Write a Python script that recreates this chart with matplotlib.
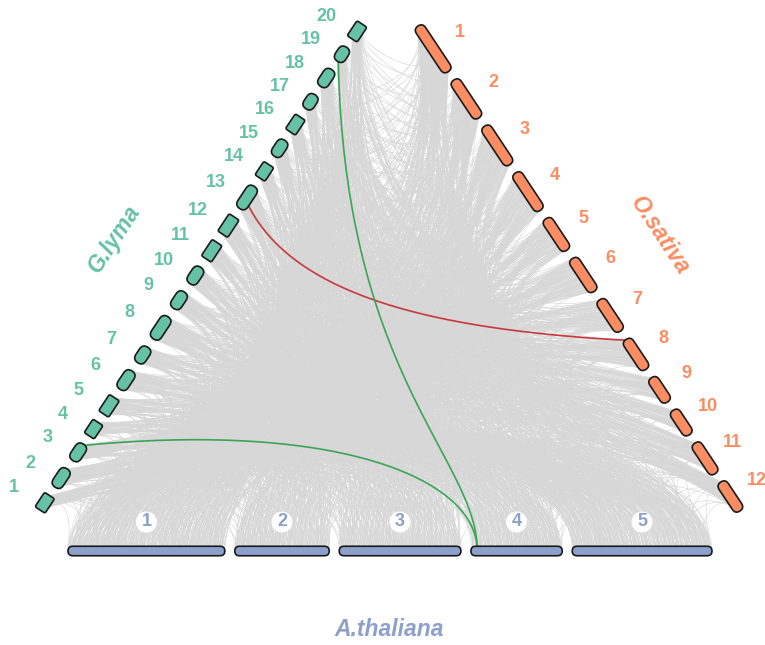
import numpy as np
import matplotlib.pyplot as plt
from matplotlib.patches import FancyBboxPatch, Circle
from matplotlib.collections import LineCollection
from matplotlib.transforms import Affine2D

plt.rcParams['font.family'] = ['Liberation Sans', 'DejaVu Sans']

# * Chromosome sizes of the three genomes
gm_names = [str(i) for i in range(1, 21)]
gm_len = [15, 19, 17, 14, 17, 19, 16, 23, 17, 17, 17, 18, 23, 14, 16.5, 15.5, 14.5, 17.5, 14.5, 15.5]
os_names = [str(i) for i in range(1, 13)]
os_len = [43.3, 35.9, 36.4, 35.5, 29.9, 31.2, 29.7, 28.4, 23.0, 23.2, 29.0, 27.5]
at_names = ["1", "2", "3", "4", "5"]
at_len = [30.4, 18.3, 23.6, 17.7, 27.1]

# * Number of syntenic blocks leaving each chromosome
gm_at_links = [45, 55, 50, 40, 50, 55, 50, 65, 50, 50, 45, 50, 65, 45, 55, 50, 45, 60, 50, 50]
gm_os_links = [22, 26, 25, 22, 22, 26, 22, 30, 25, 25, 22, 25, 32, 22, 28, 25, 25, 28, 25, 25]
os_at_links = [80, 65, 65, 58, 50, 50, 46, 42, 32, 32, 40, 36]

# * Highlighted blocks: (chrom A, position in A, chrom B, position in B)
hl_gm_os = [(13, 0.40, 8, 0.03)]
hl_gm_at = [(19, 0.10, 4, 0.07), (3, 0.92, 4, 0.07)]

c_gm, c_os, c_at = "#66C2A5", "#FC8D62", "#8DA0CB"

fig = plt.figure(figsize=(7.65, 6.45), dpi=100)
ax = fig.add_axes([0, 0, 1, 1])
ax.set_xlim(0, 765)
ax.set_ylim(645, 0)
ax.set_aspect("equal")
ax.axis("off")


def layout(lengths, p0, p1, gap=10):
    p0 = np.array(p0, float)
    p1 = np.array(p1, float)
    total = np.linalg.norm(p1 - p0)
    unit = (p1 - p0) / total
    scale = (total - gap * (len(lengths) - 1)) / sum(lengths)
    starts, s = [], 0
    for L in lengths:
        starts.append(s)
        s += L * scale + gap
    return dict(p0=p0, unit=unit, scale=scale, starts=np.array(starts),
                lengths=np.array(lengths, float))


sides = {
    "gm": layout(gm_len, (40, 510), (362, 24)),
    "os": layout(os_len, (418, 26), (740, 511)),
    "at": layout(at_len, (68, 551), (712, 551)),
}


def point(kind, chrom, frac):
    sd = sides[kind]
    d = sd["starts"][chrom] + frac * sd["lengths"][chrom] * sd["scale"]
    return sd["p0"] + d * sd["unit"]


def genome_point(kind, u):
    # u in [0,1) along the whole genome
    L = sides[kind]["lengths"]
    cum = np.concatenate([[0], np.cumsum(L)])
    pos = u * cum[-1]
    j = min(np.searchsorted(cum, pos, side="right") - 1, len(L) - 1)
    return point(kind, j, (pos - cum[j]) / L[j])


focus = {"gm": np.array([345.0, 420.0]), "os": np.array([437.0, 330.0])}
handle_len = {("gm", "at"): (0.62, 0.18), ("os", "at"): (0.62, 0.18), ("gm", "os"): (0.25, 0.5)}


def handle(kind, p):
    if kind == "at":
        return np.array([0.0, -1.0])
    v = focus[kind] - p
    return v / np.linalg.norm(v)


def link_path(ka, a, kb, b, n=40):
    d = np.linalg.norm(b - a)
    ha, hb = handle_len[(ka, kb)]
    c1 = a + ha * d * handle(ka, a)
    c2 = b + hb * d * handle(kb, b)
    t = np.linspace(0, 1, n)[:, None]
    return (1 - t) ** 3 * a + 3 * (1 - t) ** 2 * t * c1 + 3 * (1 - t) * t ** 2 * c2 + t ** 3 * b


# * Gray background links
segs = []
for ka, kb, counts in [("gm", "at", gm_at_links), ("gm", "os", gm_os_links), ("os", "at", os_at_links)]:
    for i, n in enumerate(counts):
        for k in range(n):
            s = (0.5 + k * 0.6180339887 + i * 0.117) % 1.0
            u = (i * 0.2137 + k * 0.7548776662) % 1.0
            a = point(ka, i, s)
            b = genome_point(kb, u)
            segs.append(link_path(ka, a, kb, b))
ax.add_collection(LineCollection(segs, colors="#d7d7d7", linewidths=0.45, zorder=1))

# * Highlighted links
for ca, fa, cb, fb in hl_gm_os:
    a, b = point("gm", ca - 1, fa), point("os", cb - 1, fb)
    p = link_path("gm", a, "os", b)
    ax.plot(p[:, 0], p[:, 1], color="#c8393b", lw=1.2, zorder=2)
for ca, fa, cb, fb in hl_gm_at:
    a, b = point("gm", ca - 1, fa), point("at", cb - 1, fb)
    p = link_path("gm", a, "at", b)
    ax.plot(p[:, 0], p[:, 1], color="#3aa655", lw=1.2, zorder=2)

# * Chromosomes
gm_square = [1, 4, 5, 11, 12, 14, 16, 20]


def draw_side(kind, color, square=(), h=10.5):
    sd = sides[kind]
    ang = np.degrees(np.arctan2(sd["unit"][1], sd["unit"][0]))
    for i, L in enumerate(sd["lengths"]):
        start = sd["p0"] + sd["starts"][i] * sd["unit"]
        w = L * sd["scale"]
        r = 1.8 if (i + 1) in square else h / 2
        box = FancyBboxPatch((0, -h / 2), w, h, boxstyle=f"round,pad=0,rounding_size={r}",
                             fc=color, ec="#1a1a1a", lw=1.2,
                             transform=Affine2D().rotate_deg(ang).translate(*start) + ax.transData,
                             zorder=3)
        ax.add_patch(box)


draw_side("gm", c_gm, gm_square, h=12)
draw_side("os", c_os, h=11)
draw_side("at", c_at, h=9.5)

# * Chromosome labels
for i, name in enumerate(gm_names):
    c = point("gm", i, 0.5)
    ax.text(c[0] - 31, c[1] - 15, name, color=c_gm, fontsize=13, fontweight="bold",
            ha="center", va="center", zorder=4)
for i, name in enumerate(os_names):
    c = point("os", i, 0.5)
    ax.text(c[0] + 27, c[1] - 16, name, color=c_os, fontsize=13, fontweight="bold",
            ha="center", va="center", zorder=4)
for i, name in enumerate(at_names):
    c = point("at", i, 0.5)
    ax.add_patch(Circle((c[0], 522), 10.5, fc="white", ec="none", zorder=4))
    ax.text(c[0], 522, name, color=c_at, fontsize=13, fontweight="bold",
            ha="center", va="center", zorder=5)

# * Species names
ax.text(114, 239, "G.lyma", color=c_gm, fontsize=16.5, fontweight="bold", style="italic",
        rotation=56.5, ha="center", va="center")
ax.text(660, 236, "O.sativa", color=c_os, fontsize=16.5, fontweight="bold", style="italic",
        rotation=-56.5, ha="center", va="center")
ax.text(389, 630, "A.thaliana", color=c_at, fontsize=16.5, fontweight="bold", style="italic",
        ha="center", va="center")

fig.savefig("out.png", dpi=100)
